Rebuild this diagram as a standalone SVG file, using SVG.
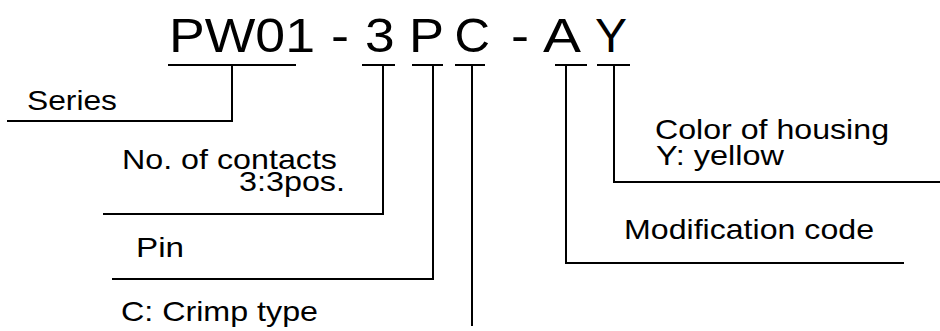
<svg xmlns="http://www.w3.org/2000/svg" width="940" height="331" viewBox="0 0 940 331">
<style>
  .big { font-family: "Liberation Sans", Arial, sans-serif; font-size: 48px; fill: #000; }
  .lbl { font-family: "Liberation Sans", Arial, sans-serif; font-size: 28px; fill: #000; }
  .ln { fill: none; stroke: #000; stroke-width: 2; }
</style>
<rect width="940" height="331" fill="#fff"/>
<g id="part-number">
  <text class="big" x="169" y="52" textLength="146" lengthAdjust="spacingAndGlyphs">PW01</text>
  <text class="big" x="331" y="52" textLength="18" lengthAdjust="spacingAndGlyphs">-</text>
  <text class="big" x="365" y="52" textLength="29.6" lengthAdjust="spacingAndGlyphs">3</text>
  <text class="big" x="409" y="52" textLength="35" lengthAdjust="spacingAndGlyphs">P</text>
  <text class="big" x="454.5" y="52" textLength="35.5" lengthAdjust="spacingAndGlyphs">C</text>
  <text class="big" x="511" y="52" textLength="18" lengthAdjust="spacingAndGlyphs">-</text>
  <text class="big" x="543" y="52" textLength="38" lengthAdjust="spacingAndGlyphs">A</text>
  <text class="big" x="595" y="52" textLength="32" lengthAdjust="spacingAndGlyphs">Y</text>
</g>
<g id="series">
  <text class="lbl" x="27" y="110" textLength="90" lengthAdjust="spacingAndGlyphs">Series</text>
</g>
<g id="contacts">
  <text class="lbl"><tspan x="122" y="169" textLength="215" lengthAdjust="spacingAndGlyphs">No. of contacts</tspan><tspan x="239" y="191" textLength="106" lengthAdjust="spacingAndGlyphs">3:3pos.</tspan></text>
</g>
<g id="pin">
  <text class="lbl" x="136" y="257" textLength="48" lengthAdjust="spacingAndGlyphs">Pin</text>
</g>
<g id="crimp">
  <text class="lbl" x="121" y="321" textLength="197" lengthAdjust="spacingAndGlyphs">C: Crimp type</text>
</g>
<g id="housing">
  <text class="lbl"><tspan x="655" y="139" textLength="234" lengthAdjust="spacingAndGlyphs">Color of housing</tspan><tspan x="656" y="165" textLength="128" lengthAdjust="spacingAndGlyphs">Y: yellow</tspan></text>
</g>
<g id="modification">
  <text class="lbl" x="624" y="239" textLength="250" lengthAdjust="spacingAndGlyphs">Modification code</text>
</g>
<g id="connectors">
  <line class="ln" x1="168" y1="65" x2="296" y2="65"/>
  <line class="ln" x1="362" y1="65" x2="395" y2="65"/>
  <line class="ln" x1="412" y1="65" x2="443" y2="65"/>
  <line class="ln" x1="455" y1="65" x2="485" y2="65"/>
  <line class="ln" x1="555" y1="65" x2="587" y2="65"/>
  <line class="ln" x1="597" y1="65" x2="630" y2="65"/>
  <polyline class="ln" points="7,121 232,121 232,65"/>
  <polyline class="ln" points="103,214 383,214 383,65"/>
  <polyline class="ln" points="112,279 433,279 433,65"/>
  <polyline class="ln" points="472,65 472,326"/>
  <polyline class="ln" points="566,65 566,263 904,263"/>
  <polyline class="ln" points="614,65 614,182 940,182"/>
</g>
</svg>
